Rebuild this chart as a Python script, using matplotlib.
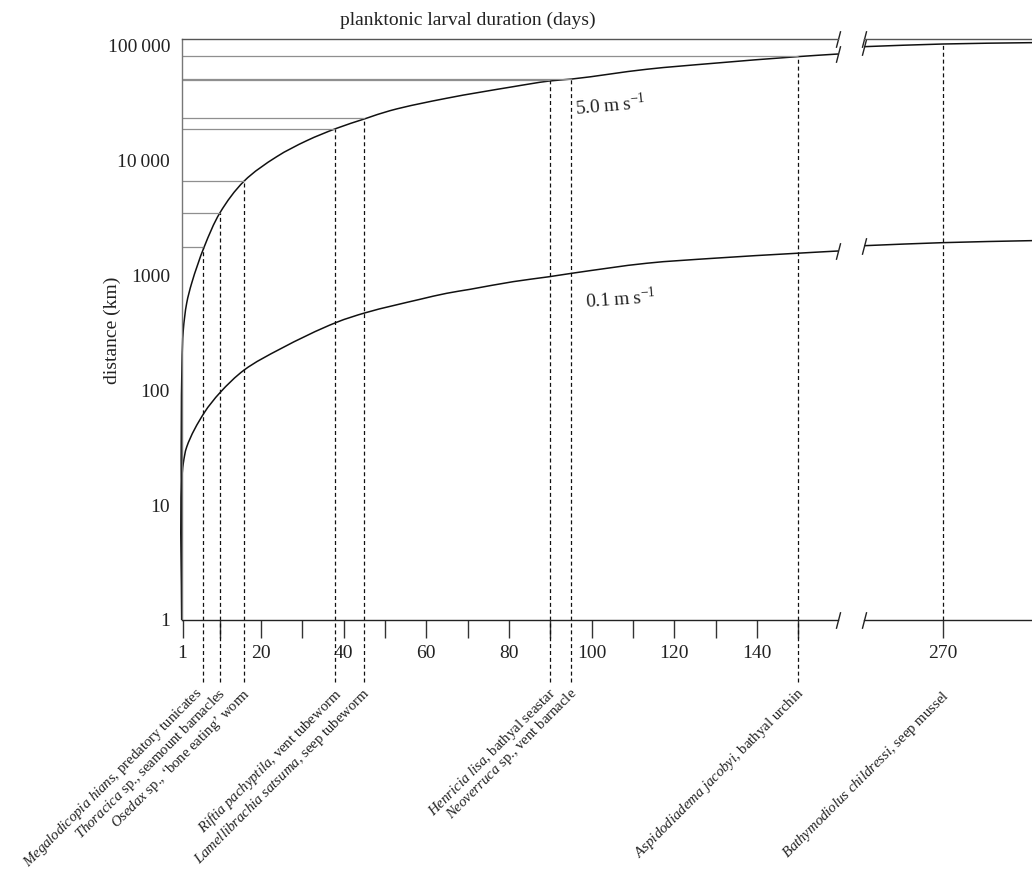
import numpy as np
import matplotlib
matplotlib.use("Agg")
import matplotlib.pyplot as plt
from matplotlib.ticker import NullLocator, FixedLocator
from matplotlib.path import Path
from matplotlib.patches import PathPatch

plt.rcParams["font.family"] = ["Liberation Serif", "DejaVu Serif"]
plt.rcParams["mathtext.fontset"] = "custom"
plt.rcParams["mathtext.rm"] = "Liberation Serif"
plt.rcParams["mathtext.it"] = "Liberation Serif:italic"

# ---------------- data ----------------
days_fast = [0.81, 0.88, 1.19, 2.02, 3.23, 6.27, 10.07, 15.9, 23.8, 31.05, 38.3,
             45.2, 51.2, 64.9, 81.0, 89.7, 95.2, 113.3, 129.4, 149.6, 159.6]
dist_fast = [1.0, 172, 332, 571, 851, 1763, 3480, 6550, 10690, 14720, 18870,
             22870, 26840, 34420, 43400, 48600, 50600, 61500, 69300, 79100, 83500]

days_slow = [0.81, 0.83, 1.19, 2.02, 6.27, 10.07, 15.9, 24.6, 38.3, 45.3,
             58.5, 64.9, 70.6, 81.0, 89.7, 95.2, 113.3, 129.4, 149.6, 159.6]
dist_slow = [1.0, 16.5, 23, 32, 63.5, 94.8, 149, 227, 388, 470,
             615, 693, 751, 875, 966, 1035, 1265, 1397, 1545, 1617]

days_fast_right = [250.9, 270, 291.6]
dist_fast_right = [96700, 102000, 104800]
days_slow_right = [250.9, 270, 291.6]
dist_slow_right = [1798, 1911, 1990]

species_genus = ["Megalodicopia hians", "Thoracica", "Osedax", "Riftia pachyptila",
                 "Lamellibrachia satsuma", "Henricia lisa", "Neoverruca",
                 "Aspidodiadema jacobyi", "Bathymodiolus childressi"]
species_rest = [", predatory tunicates", " sp., seamount barnacles",
                " sp., \u2018bone eating\u2019 worm", ", vent tubeworm",
                ", seep tubeworm", ", bathyal seastar", " sp., vent barnacle",
                ", bathyal urchin", ", seep mussel"]
species_days = [6, 10, 16, 38, 45, 90, 95, 150, 270]
species_dist = [1740, 3480, 6610, 18600, 23040, 49500, 50300, 80200, 102000]

y_ticks = [1, 10, 100, 1000, 10000, 100000]
y_tick_labels = ["1", "10", "100", "1000", "10\u2009000", "100\u2009000"]
x_major_left = [1, 20, 40, 60, 80, 100, 120, 140]
x_minor_left = [10, 30, 50, 70, 90, 110, 130, 150]
x_major_right = [270]

# ---------------- layout ----------------
W, H = 1032, 873
fig = plt.figure(figsize=(W / 100, H / 100), dpi=100)


def px_axes(x0, y0, x1, y1):
    return fig.add_axes([x0 / W, 1 - y1 / H, (x1 - x0) / W, (y1 - y0) / H])


Y_TOP_PX, Y_BOT_PX = 38.5, 620
PX_PER_DEC = 115.0
ylim = (1, 10 ** ((Y_BOT_PX - Y_TOP_PX) / PX_PER_DEC))

axL = px_axes(181.7, Y_TOP_PX, 838, Y_BOT_PX)
axR = px_axes(864, Y_TOP_PX, 1032, Y_BOT_PX)
xlimL = (0.806, 159.6)
xlimR = (250.9, 291.6)

for ax, xl in ((axL, xlimL), (axR, xlimR)):
    ax.set_yscale("log")
    ax.set_ylim(*ylim)
    ax.set_xlim(*xl)
    ax.patch.set_visible(False)
    ax.spines["right"].set_visible(False)
    ax.spines["top"].set_color("#555555")
    ax.spines["bottom"].set_color("#222222")
    ax.spines["top"].set_linewidth(1.0)
    ax.spines["bottom"].set_linewidth(1.0)
    ax.yaxis.set_minor_locator(NullLocator())

axL.spines["left"].set_color("#777777")
axL.spines["left"].set_linewidth(1.0)
axR.spines["left"].set_visible(False)

axL.set_yticks(y_ticks)
axL.set_yticklabels(y_tick_labels)
axL.tick_params(axis="y", length=0, pad=8.4, labelsize=14, labelcolor="#222222")
axR.set_yticks([])

axL.set_xticks(x_major_left)
axL.xaxis.set_minor_locator(FixedLocator(x_minor_left))
axR.set_xticks(x_major_right)
for ax in (axL, axR):
    ax.tick_params(axis="x", which="both", direction="out", length=13, width=1.0,
                   color="#333333", pad=5, labelsize=14, labelcolor="#222222")


# ---------------- curves (smooth Bezier through the read points) ----------------
def smooth_curve(ax, xs, ys, **kw):
    P = ax.transData.transform(np.column_stack([xs, ys]))
    d = P[1:] - P[:-1]
    L = np.hypot(d[:, 0], d[:, 1])
    U = d / L[:, None]
    T = np.empty_like(P)
    T[0], T[-1] = U[0], U[-1]
    for i in range(1, len(P) - 1):
        t = U[i - 1] + U[i]
        T[i] = t / np.hypot(*t)
    verts, codes = [P[0]], [Path.MOVETO]
    for i in range(len(P) - 1):
        verts += [P[i] + T[i] * L[i] / 3, P[i + 1] - T[i + 1] * L[i] / 3, P[i + 1]]
        codes += [Path.CURVE4] * 3
    vd = ax.transData.inverted().transform(np.array(verts))
    ax.add_patch(PathPatch(Path(vd, codes), fill=False, transform=ax.transData, **kw))


ckw = dict(edgecolor="#111111", lw=1.1, capstyle="butt", clip_on=False)
smooth_curve(axL, days_fast, dist_fast, **ckw)
smooth_curve(axL, days_slow, dist_slow, **ckw)
smooth_curve(axR, days_fast_right, dist_fast_right, **ckw)
smooth_curve(axR, days_slow_right, dist_slow_right, **ckw)

# ---------------- species markers ----------------
logspan = np.log10(ylim[1]) - np.log10(ylim[0])
frac_dash_bottom = -(682 - Y_BOT_PX) / (Y_BOT_PX - Y_TOP_PX)
y_dash_bottom = 10 ** (frac_dash_bottom * logspan)
dash = (3.2, 2.3)
label_nudge_px = {0: -7.0}

for i, (genus, rest, d, dist) in enumerate(zip(species_genus, species_rest,
                                                 species_days, species_dist)):
    label = r"$\mathit{" + genus.replace(" ", r"\ ") + "}$" + rest
    if d <= xlimL[1]:
        ax = axL
        axL.plot([xlimL[0], d], [dist, dist], color="#8f8f8f", lw=0.9)
        axL.plot([d, d], [y_dash_bottom, dist], color="#111111", lw=0.9,
                 dashes=dash, clip_on=False)
        ylab_px = 685
    else:
        ax = axR
        axR.plot([d, d], [1, dist], color="#111111", lw=0.9, dashes=dash)
        ylab_px = 688
    xd, _ = ax.transData.transform((d, 1))
    xd += -2.0 + label_nudge_px.get(i, 0.0)
    fig.text(xd / W, 1 - ylab_px / H, label, rotation=45, rotation_mode="anchor",
             ha="right", va="top", fontsize=10.6, color="#222222")

# ---------------- axis break slashes ----------------
slash = [(-0.26, -1.0), (0.26, 1.0)]
mk = dict(marker=slash, ms=12, mew=1.0, mec="#222222", ls="none", clip_on=False)
axL.plot([xlimL[1]] * 4, [ylim[0], ylim[1], dist_fast[-1], dist_slow[-1]], **mk)
axR.plot([xlimR[0]] * 4, [ylim[0], ylim[1], dist_fast_right[0], dist_slow_right[0]], **mk)


# ---------------- texts ----------------
def ftext(xp, yp, s, **k):
    fig.text(xp / W, 1 - yp / H, s, **k)


ftext(468, 20, "planktonic larval duration (days)", ha="center", va="center",
      fontsize=14, color="#222222")
ftext(112, 330, "distance (km)", ha="center", va="center", rotation=90,
      fontsize=14, color="#222222")
ftext(575, 109, "5.0\u2009m\u2009s$^{-1}$", ha="left", va="center", rotation=5,
      rotation_mode="anchor", fontsize=14, color="#222222")
ftext(585, 302, "0.1\u2009m\u2009s$^{-1}$", ha="left", va="center", rotation=4,
      rotation_mode="anchor", fontsize=14, color="#222222")

fig.savefig("out.png", dpi=100)
